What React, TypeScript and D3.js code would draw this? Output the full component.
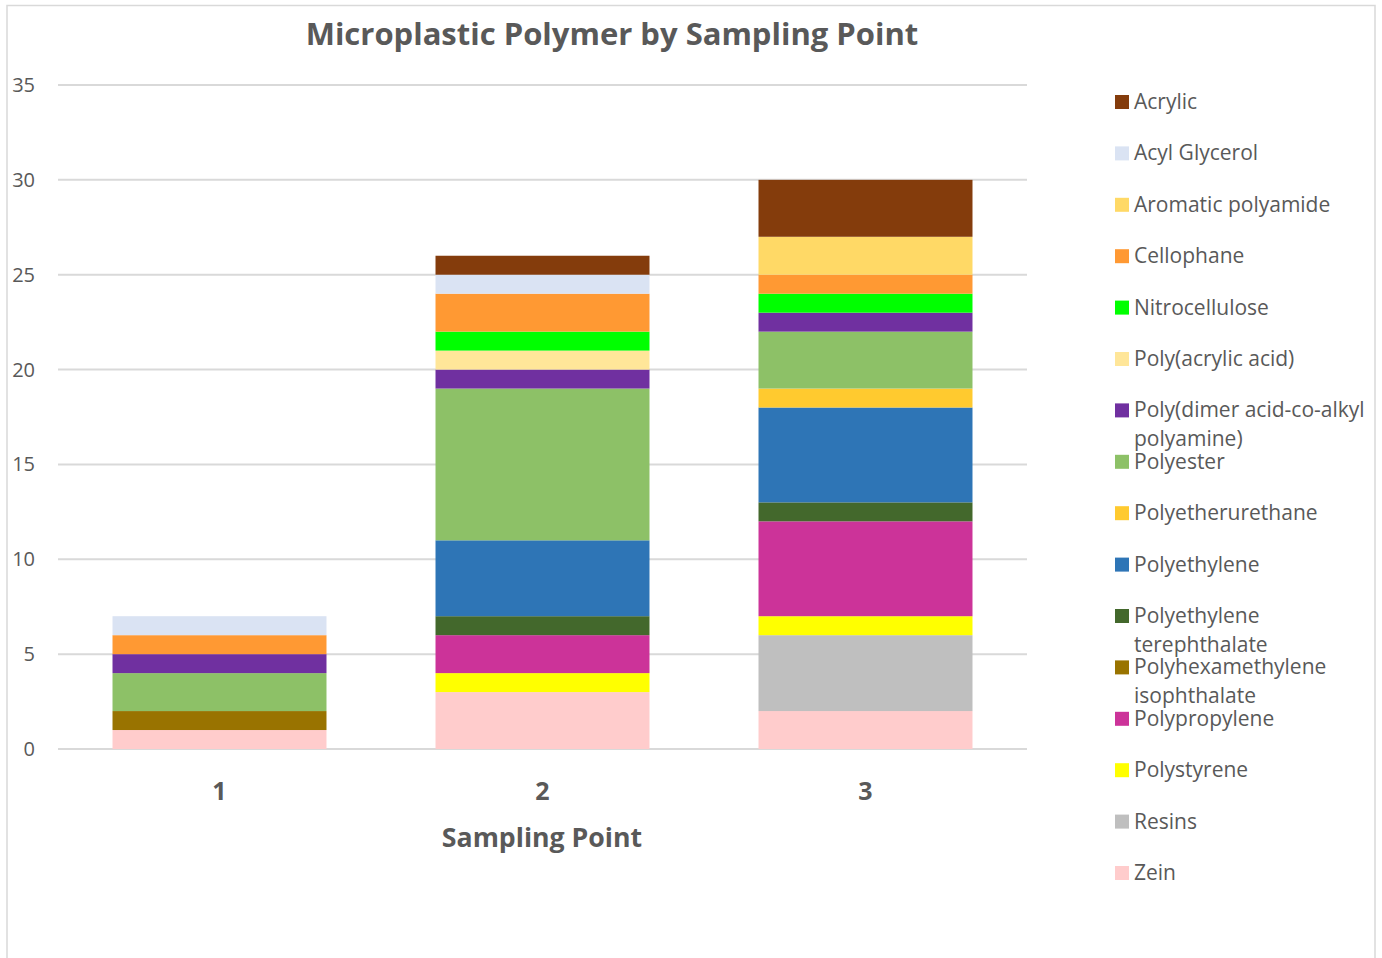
import React from "react";
import * as d3 from "d3";

const samplingPoints = ["1", "2", "3"];

const polymers = [
  "Zein",
  "Resins",
  "Polystyrene",
  "Polypropylene",
  "Polyhexamethylene isophthalate",
  "Polyethylene terephthalate",
  "Polyethylene",
  "Polyetherurethane",
  "Polyester",
  "Poly(dimer acid-co-alkyl polyamine)",
  "Poly(acrylic acid)",
  "Nitrocellulose",
  "Cellophane",
  "Aromatic polyamide",
  "Acyl Glycerol",
  "Acrylic",
];

// counts per sampling point (1, 2, 3), same order as polymers
const zein = [1, 3, 2];
const resins = [0, 0, 4];
const polystyrene = [0, 1, 1];
const polypropylene = [0, 2, 5];
const polyhexamethyleneIsophthalate = [1, 0, 0];
const polyethyleneTerephthalate = [0, 1, 1];
const polyethylene = [0, 4, 5];
const polyetherurethane = [0, 0, 1];
const polyester = [2, 8, 3];
const polyDimerAcid = [1, 1, 1];
const polyAcrylicAcid = [0, 1, 0];
const nitrocellulose = [0, 1, 1];
const cellophane = [1, 2, 1];
const aromaticPolyamide = [0, 0, 2];
const acylGlycerol = [1, 1, 0];
const acrylic = [0, 1, 3];

const seriesValues = [
  zein,
  resins,
  polystyrene,
  polypropylene,
  polyhexamethyleneIsophthalate,
  polyethyleneTerephthalate,
  polyethylene,
  polyetherurethane,
  polyester,
  polyDimerAcid,
  polyAcrylicAcid,
  nitrocellulose,
  cellophane,
  aromaticPolyamide,
  acylGlycerol,
  acrylic,
];

const colors = [
  "#ffcccc",
  "#bfbfbf",
  "#ffff00",
  "#cc3399",
  "#997300",
  "#43682c",
  "#2e75b6",
  "#ffca2f",
  "#8dc167",
  "#7030a0",
  "#ffe699",
  "#00ff00",
  "#ff9933",
  "#ffd966",
  "#dae3f3",
  "#843c0c",
];

const yTicks = [0, 5, 10, 15, 20, 25, 30, 35];

// legend entries, top to bottom, with wrapped lines
const legendLines: string[][] = [
  ["Acrylic"],
  ["Acyl Glycerol"],
  ["Aromatic polyamide"],
  ["Cellophane"],
  ["Nitrocellulose"],
  ["Poly(acrylic acid)"],
  ["Poly(dimer acid-co-alkyl", "polyamine)"],
  ["Polyester"],
  ["Polyetherurethane"],
  ["Polyethylene"],
  ["Polyethylene", "terephthalate"],
  ["Polyhexamethylene", "isophthalate"],
  ["Polypropylene"],
  ["Polystyrene"],
  ["Resins"],
  ["Zein"],
];

const FONT = "'Open Sans', Lato, sans-serif";
const TEXT = "#595959";

export default function App() {
  const width = 1382;
  const height = 958;
  const x = d3
    .scaleBand<string>()
    .domain(samplingPoints)
    .range([58, 1027])
    .paddingInner(0.3375)
    .paddingOuter(0.16875);
  const y = d3.scaleLinear().domain([0, 35]).range([749, 85]);

  const rows = samplingPoints.map((p, i) => {
    const r: Record<string, any> = { point: p };
    polymers.forEach((name, k) => (r[name] = seriesValues[k][i]));
    return r;
  });
  const stacked = d3.stack<Record<string, any>>().keys(polymers)(rows);

  const legendColor = (label: string[]) => {
    const full = label.join(" ");
    return colors[polymers.indexOf(full)];
  };

  return (
    <svg
      width={width}
      height={height}
      style={{ position: "fixed", left: 0, top: 0, background: "#fff" }}
      fontFamily={FONT}
    >
      <rect x={7} y={5.5} width={1368} height={980} fill="#fff" stroke="#d9d9d9" strokeWidth={1.5} />
      <text x={612} y={45} textAnchor="middle" fontSize={31} fontWeight="bold" fill={TEXT}>
        Microplastic Polymer by Sampling Point
      </text>

      {yTicks.map((t) => (
        <g key={t}>
          <line x1={58} x2={1027} y1={y(t)} y2={y(t)} stroke="#d9d9d9" strokeWidth={2} />
          <text x={35} y={y(t) + 7} textAnchor="end" fontSize={20} fill={TEXT}>
            {t}
          </text>
        </g>
      ))}

      {stacked.map((s, k) =>
        s.map((d, i) =>
          d[1] - d[0] > 0 ? (
            <rect
              key={`${k}-${i}`}
              x={x(samplingPoints[i])!}
              width={x.bandwidth()}
              y={y(d[1])}
              height={y(d[0]) - y(d[1])}
              fill={colors[k]}
            />
          ) : null
        )
      )}

      {samplingPoints.map((p) => (
        <text
          key={p}
          x={x(p)! + x.bandwidth() / 2}
          y={800}
          textAnchor="middle"
          fontSize={25}
          fontWeight="bold"
          fill={TEXT}
        >
          {p}
        </text>
      ))}
      <text x={542} y={847} textAnchor="middle" fontSize={26.7} fontWeight="bold" fill={TEXT}>
        Sampling Point
      </text>

      {legendLines.map((lines, i) => {
        const cy = 102 + i * 51.4;
        return (
          <g key={i}>
            <rect x={1115} y={cy - 7} width={14} height={14} fill={legendColor(lines)} />
            {lines.map((ln, j) => (
              <text key={j} x={1134} y={cy + 7 + j * 28.5} fontSize={21} fill={TEXT}>
                {ln}
              </text>
            ))}
          </g>
        );
      })}
    </svg>
  );
}
